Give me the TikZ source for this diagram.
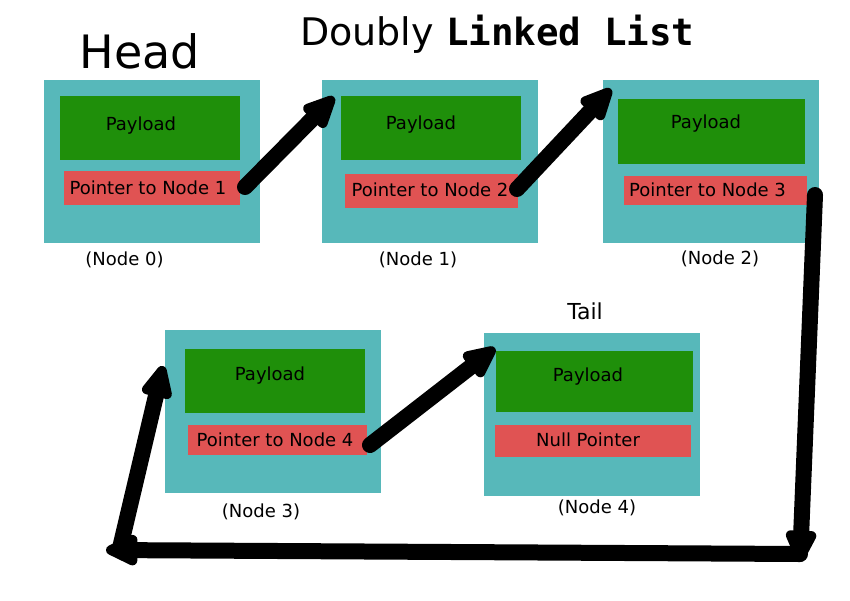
\documentclass[tikz,border=0pt]{standalone}
\usepackage{fontspec}
\setmainfont{DejaVu Sans}
\newfontfamily\monofont{DejaVu Sans Mono}
\usetikzlibrary{arrows.meta}
\definecolor{tealc}{HTML}{57B8BA}
\definecolor{greenc}{HTML}{1F8F0A}
\definecolor{redc}{HTML}{E05353}
\begin{document}
\begin{tikzpicture}[x=1pt,y=-1pt,
  cellbox/.style={fill=tealc, inner sep=0pt, outer sep=0pt, anchor=north west},
  paybox/.style={fill=greenc, inner sep=0pt, outer sep=0pt, anchor=north west},
  ptrbox/.style={fill=redc, inner sep=0pt, outer sep=0pt, anchor=north west},
  lbl/.style={inner sep=0pt, font=\fontsize{18}{21}\selectfont},
  ptr/.style={line width=16pt, line cap=round, line join=round,
    -{Triangle[length=39pt,width=33pt,round]}}]
\useasboundingbox (0,0) rectangle (850,600);

% titles
\node[inner sep=0pt, anchor=base, font=\fontsize{46}{52}\selectfont] (head) at (140,68) {Head};
\node[inner sep=0pt, anchor=base west, font=\fontsize{38}{44}\selectfont] (title) at (300,45)
  {Doubly {\monofont\bfseries\fontsize{37.5}{44}\selectfont Linked List}};
\node[inner sep=0pt, anchor=base, font=\fontsize{22}{26}\selectfont] (tail) at (585,319) {Tail};

% node 0
\node[cellbox, minimum width=216pt, minimum height=163pt] (c0) at (44,80) {};
\node[paybox, minimum width=180pt, minimum height=64pt] (g0) at (60,96) {};
\node[ptrbox, minimum width=176pt, minimum height=34pt] (r0) at (64,171) {};
\node[lbl] (p0) at (141,126) {Payload};
\node[lbl] (t0) at (148,188) {Pointer to Node 1};
\node[lbl] (l0) at (124.5,260) {(Node 0)};

% node 1
\node[cellbox, minimum width=216pt, minimum height=163pt] (c1) at (322,80) {};
\node[paybox, minimum width=180pt, minimum height=64pt] (g1) at (341,96) {};
\node[ptrbox, minimum width=173pt, minimum height=34pt] (r1) at (345,174) {};
\node[lbl] (p1) at (421,125) {Payload};
\node[lbl] (t1) at (430,190) {Pointer to Node 2};
\node[lbl] (l1) at (418,260) {(Node 1)};

% node 2
\node[cellbox, minimum width=216pt, minimum height=163pt] (c2) at (603,80) {};
\node[paybox, minimum width=187pt, minimum height=65pt] (g2) at (618,99) {};
\node[ptrbox, minimum width=183pt, minimum height=29pt] (r2) at (624,176) {};
\node[lbl] (p2) at (706,124) {Payload};
\node[lbl] (t2) at (707.5,190) {Pointer to Node 3};
\node[lbl] (l2) at (720,259) {(Node 2)};

% node 3
\node[cellbox, minimum width=216pt, minimum height=163pt] (c3) at (165,330) {};
\node[paybox, minimum width=180pt, minimum height=64pt] (g3) at (185,349) {};
\node[ptrbox, minimum width=179pt, minimum height=30pt] (r3) at (188,425) {};
\node[lbl] (p3) at (270,376) {Payload};
\node[lbl] (t3) at (275,440) {Pointer to Node 4};
\node[lbl] (l3) at (261,512) {(Node 3)};

% node 4
\node[cellbox, minimum width=216pt, minimum height=163pt] (c4) at (484,333) {};
\node[paybox, minimum width=197pt, minimum height=61pt] (g4) at (496,351) {};
\node[ptrbox, minimum width=196pt, minimum height=32pt] (r4) at (495,425) {};
\node[lbl] (p4) at (588,377) {Payload};
\node[lbl] (t4) at (588,440) {Null Pointer};
\node[lbl] (l4) at (597,508) {(Node 4)};

% connector end points
\coordinate (a1s) at (245,187);
\coordinate (a1e) at (334,97);
\coordinate (a2s) at (517,189);
\coordinate (a2e) at (611,89);
\coordinate (a3s) at (815,195);
\coordinate (a3m) at (800,562);
\coordinate (b3s) at (800,554);
\coordinate (b3e) at (106,550);
\coordinate (c3s) at (120,548);
\coordinate (c3e) at (163,366);
\coordinate (a4s) at (370,445);
\coordinate (a4e) at (495,348);

\draw[ptr] (a1s) -- (a1e);
\draw[ptr] (a2s) -- (a2e);
\draw[ptr] (a3s) -- (a3m);
\draw[ptr] (b3s) -- (b3e);
\draw[ptr] (c3s) -- (c3e);
\draw[ptr] (a4s) -- (a4e);
\end{tikzpicture}
\end{document}
